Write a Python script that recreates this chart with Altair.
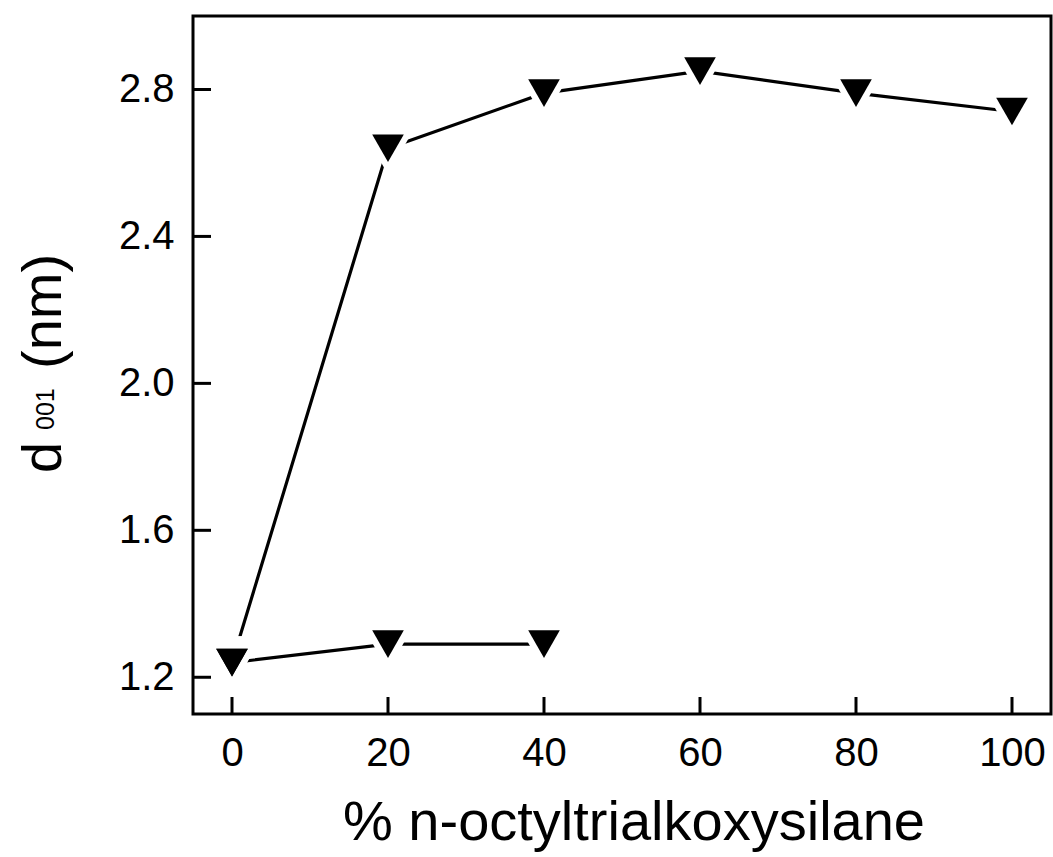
import altair as alt
import pandas as pd

# ---- data ----
x_upper = [0, 20, 40, 60, 80, 100]
d_upper = [1.24, 2.64, 2.79, 2.85, 2.79, 2.74]
x_lower = [0, 20, 40]
d_lower = [1.24, 1.29, 1.29]
x_ticks = [0, 20, 40, 60, 80, 100]
y_ticks = [1.2, 1.6, 2.0, 2.4, 2.8]
x_title = ["% n-octyltrialkoxysilane"]
y_title_main = ["d"]
y_title_sub = ["001"]
y_title_unit = ["(nm)"]

df = pd.DataFrame({
    "x": x_upper + x_lower,
    "y": d_upper + d_lower,
    "series": ["upper"] * len(x_upper) + ["lower"] * len(x_lower),
})
xt = pd.DataFrame({"x": x_ticks})
yt = pd.DataFrame({"y": y_ticks})

W, H = 858, 698
FONT = "Liberation Sans"
TRI = "M-1,-0.875L1,-0.875L0,0.875Z"

xs = alt.Scale(domain=[-5, 105], nice=False, zero=False)
ys = alt.Scale(domain=[1.1, 3.0], nice=False, zero=False)

xaxis = alt.Axis(values=x_ticks, title=None, grid=False, domain=False, ticks=False,
                 labelPadding=19, labelFontSize=40, labelFont=FONT, labelColor="black",
                 format="d")
yaxis = alt.Axis(values=y_ticks, title=None, grid=False, domain=False, ticks=False,
                 labelPadding=19, labelFontSize=40, labelFont=FONT, labelColor="black",
                 format=".1f")
xenc = alt.X("x:Q", scale=xs, axis=xaxis)
yenc = alt.Y("y:Q", scale=ys, axis=yaxis)

base = alt.Chart(df)
line = base.mark_line(color="black", strokeWidth=3.2).encode(x=xenc, y=yenc, detail="series:N")
halo = base.mark_point(shape=TRI, filled=True, fill="white", size=3600, opacity=1,
                       strokeWidth=0).encode(x=xenc, y=yenc)
pts = base.mark_point(shape=TRI, filled=True, color="black", size=1000, opacity=1,
                      strokeWidth=0).encode(x=xenc, y=yenc)

xtick = alt.Chart(xt).mark_rule(color="black", strokeWidth=3).encode(
    x=xenc, y=alt.value(H), y2=alt.value(H - 17))
ytick = alt.Chart(yt).mark_rule(color="black", strokeWidth=3).encode(
    y=yenc, x=alt.value(0), x2=alt.value(18))

xlab = alt.Chart(pd.DataFrame({"label": x_title})).mark_text(
    font=FONT, fontSize=56, color="black", align="center", baseline="alphabetic"
).encode(text="label:N", x=alt.value(441), y=alt.value(824))

ylab_d = alt.Chart(pd.DataFrame({"label": y_title_main})).mark_text(
    font=FONT, fontSize=56, color="black", align="left", baseline="alphabetic", angle=270
).encode(text="label:N", x=alt.value(-132), y=alt.value(457))
ylab_s = alt.Chart(pd.DataFrame({"label": y_title_sub})).mark_text(
    font=FONT, fontSize=25, color="black", align="left", baseline="alphabetic", angle=270
).encode(text="label:N", x=alt.value(-139), y=alt.value(414))
ylab_u = alt.Chart(pd.DataFrame({"label": y_title_unit})).mark_text(
    font=FONT, fontSize=56, color="black", align="left", baseline="alphabetic", angle=270
).encode(text="label:N", x=alt.value(-132), y=alt.value(353))

chart = alt.layer(line, halo, pts, xtick, ytick, xlab, ylab_d, ylab_s, ylab_u).properties(
    width=W, height=H,
    autosize=alt.AutoSizeParams(type="none"),
    padding={"left": 193, "top": 16, "right": 2, "bottom": 143},
    background="white",
).configure_view(stroke="black", strokeWidth=3)

chart.save("out.html", embed_options={"renderer": "svg", "actions": False})
